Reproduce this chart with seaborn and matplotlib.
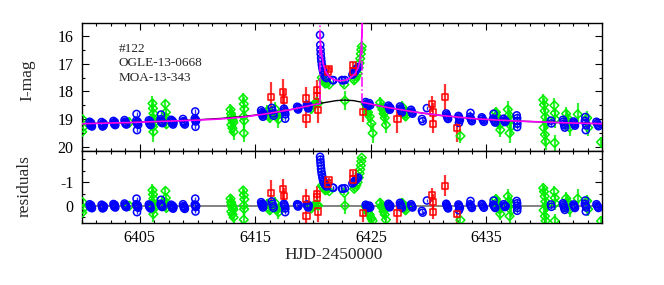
import seaborn as sns
import matplotlib.pyplot as plt
from matplotlib.ticker import MultipleLocator, FixedLocator

sns.set_theme(style="ticks")
plt.rcParams['font.family'] = ['Liberation Serif', 'DejaVu Serif']
plt.rcParams['axes.unicode_minus'] = False

event_labels = ["#122", "OGLE-13-0668", "MOA-13-343"]
xtick_vals = [6405, 6415, 6425, 6435]

# single lens model (black)
pspl_t = [6400, 6402, 6404, 6406, 6408, 6410, 6412, 6414, 6416, 6418,
          6419, 6420, 6421, 6422, 6422.7, 6423.5, 6424.5, 6425.5, 6426.5, 6427.5,
          6428.5, 6429.5, 6431, 6432.5, 6434, 6436, 6438, 6440, 6442, 6445]
pspl_mag = [19.16, 19.14, 19.12, 19.09, 19.06, 19.02, 18.97, 18.90, 18.80, 18.66,
            18.57, 18.48, 18.40, 18.33, 18.31, 18.33, 18.41, 18.50, 18.58, 18.65,
            18.72, 18.78, 18.86, 18.92, 18.98, 19.03, 19.07, 19.10, 19.13, 19.16]

# binary lens model (magenta): before, between and after the caustic crossings
bin_pre_t = [6400, 6402, 6404, 6406, 6408, 6410, 6412, 6414, 6416, 6418, 6419, 6420, 6420.57]
bin_pre_mag = [19.16, 19.14, 19.12, 19.09, 19.06, 19.03, 18.99, 18.92, 18.80, 18.66, 18.57, 18.48, 18.44]
bin_in_t = [6420.60, 6420.65, 6420.75, 6420.90, 6421.10, 6421.40, 6421.80, 6422.30,
            6422.80, 6423.20, 6423.60, 6423.90, 6424.05, 6424.15, 6424.22, 6424.26]
bin_in_mag = [15.95, 16.30, 16.70, 17.05, 17.30, 17.48, 17.58, 17.62,
              17.60, 17.52, 17.38, 17.15, 16.90, 16.50, 16.00, 15.40]
bin_post_t = [6424.26, 6424.5, 6425.5, 6426.5, 6427.5, 6428.5, 6429.5, 6431, 6432.5,
              6434, 6436, 6438, 6440, 6442, 6445]
bin_post_mag = [18.40, 18.41, 18.50, 18.58, 18.65, 18.72, 18.78, 18.86, 18.92,
                18.98, 19.03, 19.07, 19.10, 19.13, 19.16]
caustic_t = [6420.57, 6424.26]
caustic_low = [18.44, 18.40]

# blue data set
blue_t = [
    6400.66, 6400.70, 6400.74, 6400.78, 6400.82, 6400.86,
    6401.70, 6401.74, 6401.78, 6401.82, 6401.86, 6401.90,
    6402.72, 6402.76, 6402.80, 6402.84, 6402.88,
    6403.68, 6403.72, 6403.76, 6403.80, 6403.84,
    6404.72, 6404.70, 6404.74, 6404.78, 6404.82, 6404.86, 6404.76,
    6405.78, 6405.82, 6405.86, 6405.90, 6405.94,
    6406.84, 6406.80, 6406.84, 6406.88, 6406.92, 6406.96,
    6407.72, 6407.76, 6407.80, 6407.84, 6407.88, 6407.92,
    6408.74, 6408.78, 6408.82, 6408.86, 6408.90,
    6409.80, 6409.76, 6409.80, 6409.84, 6409.88, 6409.82,
    6415.50, 6415.54, 6415.58, 6415.62, 6415.66, 6415.70,
    6416.42, 6416.48, 6416.54, 6416.58,
    6417.48, 6417.52, 6417.56, 6417.60, 6417.58,
    6418.62, 6418.66, 6418.70, 6418.74,
    6419.46, 6419.50, 6419.54, 6419.58, 6419.62,
    6420.60, 6420.62, 6420.64, 6420.66, 6420.69, 6420.72, 6420.76, 6420.80, 6420.85, 6420.90, 6420.96, 6421.05, 6421.15,
    6421.70, 6421.75, 6422.50, 6422.55, 6422.75,
    6423.40, 6423.50, 6423.60, 6423.70, 6423.80, 6423.90,
    6424.55, 6424.62, 6424.70, 6424.78, 6424.86, 6424.94,
    6426.52, 6426.56, 6426.60, 6426.64, 6426.68,
    6427.52, 6427.56, 6427.60, 6427.64, 6427.68,
    6428.48, 6428.52, 6428.56, 6428.60,
    6429.42, 6429.48, 6429.85,
    6431.52, 6431.56, 6431.60, 6431.64, 6431.68,
    6432.58, 6432.62, 6432.66, 6432.70, 6432.62,
    6433.62, 6433.58, 6433.64, 6433.70, 6433.74,
    6434.60, 6434.66, 6434.72, 6434.78,
    6435.62, 6435.58, 6435.64, 6435.70, 6435.76,
    6436.48, 6436.54, 6436.60, 6436.66,
    6437.62, 6437.66, 6437.64, 6437.68, 6437.66,
    6440.58, 6440.62,
    6441.62, 6441.66, 6441.70, 6441.74, 6441.78,
    6442.54, 6442.58, 6442.62, 6442.66,
    6443.56, 6443.52, 6443.58, 6443.64, 6443.60,
    6444.52, 6444.58, 6444.64, 6444.70,
]
blue_mag = [
    19.09, 19.17, 19.23, 19.13, 19.20, 19.26,
    19.10, 19.20, 19.26, 19.14, 19.23, 19.17,
    19.06, 19.13, 19.18, 19.10, 19.21,
    19.03, 19.09, 19.16, 19.12, 19.19,
    18.81, 19.05, 19.11, 19.16, 19.09, 19.20, 19.39,
    19.04, 19.12, 19.17, 19.08, 19.21,
    18.83, 19.00, 19.06, 19.12, 19.08, 19.14,
    19.02, 19.09, 19.15, 19.06, 19.19, 19.12,
    18.99, 19.07, 19.15, 19.10, 19.19,
    18.72, 18.97, 19.02, 19.08, 19.04, 19.27,
    18.68, 18.75, 18.81, 18.86, 18.91, 18.78,
    18.59, 18.69, 18.79, 18.87,
    18.62, 18.68, 18.74, 18.82, 18.98,
    18.55, 18.61, 18.65, 18.58,
    18.48, 18.53, 18.58, 18.61, 18.51,
    15.97, 16.33, 16.50, 16.65, 16.80, 16.92, 17.05, 17.15, 17.25, 17.33, 17.40, 17.47, 17.52,
    17.59, 17.60, 17.59, 17.60, 17.59,
    17.40, 17.35, 17.30, 17.24, 17.18, 17.12,
    18.38, 18.44, 18.48, 18.52, 18.42, 18.50,
    18.51, 18.57, 18.62, 18.66, 18.59,
    18.54, 18.61, 18.66, 18.71, 18.76,
    18.66, 18.72, 18.76, 18.80,
    18.99, 19.07, 18.60,
    18.79, 18.85, 18.90, 18.95, 18.99,
    18.88, 18.93, 18.98, 19.03, 19.13,
    18.77, 18.91, 18.97, 19.02, 19.07,
    18.93, 18.98, 19.04, 19.09,
    18.80, 18.97, 19.02, 19.07, 19.12,
    18.98, 19.04, 19.10, 19.06,
    18.86, 18.96, 19.06, 19.16, 19.28,
    19.05, 19.15,
    19.02, 19.09, 19.16, 19.22, 19.30,
    19.08, 19.13, 19.18, 19.23,
    18.92, 19.06, 19.14, 19.22, 19.39,
    19.09, 19.15, 19.20, 19.25,
]
blue_res = [
    -0.06, 0.02, 0.08, -0.02, 0.05, 0.11,
    -0.04, 0.06, 0.12, 0.00, 0.09, 0.03,
    -0.07, 0.00, 0.05, -0.03, 0.08,
    -0.09, -0.03, 0.04, 0.00, 0.07,
    -0.30, -0.06, 0.00, 0.05, -0.02, 0.09, 0.28,
    -0.05, 0.03, 0.08, -0.01, 0.12,
    -0.25, -0.08, -0.02, 0.04, 0.00, 0.06,
    -0.04, 0.03, 0.09, 0.00, 0.13, 0.06,
    -0.06, 0.02, 0.10, 0.05, 0.14,
    -0.30, -0.05, 0.00, 0.06, 0.02, 0.25,
    -0.15, -0.08, -0.02, 0.03, 0.08, -0.05,
    -0.18, -0.08, 0.02, 0.10,
    -0.08, -0.02, 0.04, 0.12, 0.28,
    -0.06, 0.00, 0.04, -0.03,
    -0.05, 0.00, 0.05, 0.08, -0.02,
    -2.09, -1.97, -1.85, -1.72, -1.58, -1.45, -1.33, -1.22, -1.10, -1.02, -0.95, -0.88, -0.82,
    -0.77, -0.76, -0.73, -0.72, -0.74,
    -0.95, -1.00, -1.05, -1.10, -1.15, -1.20,
    -0.04, 0.02, 0.06, 0.10, 0.00, 0.08,
    -0.08, -0.02, 0.03, 0.07, 0.00,
    -0.12, -0.05, 0.00, 0.05, 0.10,
    -0.06, 0.00, 0.04, 0.08,
    0.22, 0.30, -0.22,
    -0.08, -0.02, 0.03, 0.08, 0.12,
    -0.05, 0.00, 0.05, 0.10, 0.20,
    -0.20, -0.06, 0.00, 0.05, 0.10,
    -0.07, -0.02, 0.04, 0.09,
    -0.22, -0.05, 0.00, 0.05, 0.10,
    -0.06, 0.00, 0.06, 0.02,
    -0.20, -0.10, 0.00, 0.10, 0.22,
    -0.05, 0.05,
    -0.10, -0.03, 0.04, 0.10, 0.18,
    -0.05, 0.00, 0.05, 0.10,
    -0.22, -0.08, 0.00, 0.08, 0.25,
    -0.06, 0.00, 0.05, 0.10,
]
blue_err = 0.08

# green data set
green_t = [
    6400.02, 6400.05, 6400.08,
    6404.10,
    6406.10, 6406.14, 6406.18, 6406.12, 6406.16, 6406.20, 6406.14, 6406.18,
    6407.22, 6407.26, 6407.24, 6407.28, 6407.30,
    6412.85, 6412.90, 6412.95, 6413.00, 6413.05, 6413.10, 6412.92, 6413.02, 6413.12,
    6413.95, 6414.00, 6414.05, 6413.98, 6414.03, 6414.00,
    6416.05, 6416.15, 6416.25, 6416.70, 6416.85, 6417.00, 6417.10,
    6419.70, 6419.85, 6420.00, 6420.15, 6420.30, 6420.45,
    6420.75, 6420.85, 6420.95, 6421.05, 6421.20, 6421.40,
    6422.70, 6422.75,
    6423.55, 6423.65, 6423.75, 6423.85,
    6423.95, 6424.02, 6424.08, 6424.13, 6424.17, 6424.21,
    6424.55, 6424.65, 6424.75, 6424.90, 6425.05, 6425.15, 6424.80,
    6425.80, 6425.90, 6426.00, 6426.10, 6426.20, 6426.30,
    6427.70, 6427.80, 6427.90, 6428.00, 6428.10,
    6432.75,
    6435.82, 6435.90, 6435.98, 6436.06, 6436.14, 6436.20,
    6436.85, 6436.95, 6437.05, 6437.15, 6437.00,
    6439.92, 6439.98, 6440.04, 6440.10, 6440.16, 6439.95, 6440.06, 6440.12,
    6440.88, 6440.92, 6440.96, 6440.90,
    6441.90, 6442.00, 6442.10, 6442.20,
    6442.90,
    6443.72, 6443.80,
    6444.92,
]
green_mag = [
    19.45, 19.00, 19.30,
    19.12,
    18.43, 18.61, 18.79, 18.95, 19.05, 19.15, 19.27, 19.45,
    18.45, 18.75, 18.92, 19.05, 19.18,
    18.65, 18.80, 18.90, 19.00, 19.05, 19.12, 19.20, 19.32, 19.45,
    18.25, 18.45, 18.63, 18.90, 19.05, 19.50,
    18.70, 18.85, 18.95, 18.62, 18.90, 19.00, 18.80,
    18.55, 18.62, 18.50, 18.45, 18.38, 18.42,
    17.50, 17.58, 17.65, 17.72, 17.70, 17.75,
    17.75, 18.33,
    17.60, 17.55, 17.45, 17.35,
    17.15, 16.98, 16.82, 16.65, 16.50, 16.38,
    18.45, 18.60, 18.75, 18.90, 19.15, 19.50, 18.50,
    18.40, 18.55, 18.65, 18.80, 18.95, 19.20,
    18.55, 18.70, 18.80, 18.90, 18.75,
    19.60,
    18.75, 18.88, 18.98, 19.08, 19.20, 19.38,
    18.65, 18.85, 19.00, 19.25, 19.50,
    18.30, 18.48, 18.70, 18.92, 19.10, 19.30, 19.55, 19.80,
    18.50, 18.78, 19.00, 19.85,
    18.80, 18.95, 19.10, 19.30,
    18.82,
    18.95, 19.30,
    19.82,
]
green_res = [
    0.30, -0.15, 0.14,
    0.01,
    -0.66, -0.48, -0.30, -0.14, -0.04, 0.06, 0.18, 0.36,
    -0.63, -0.33, -0.16, -0.03, 0.10,
    -0.30, -0.15, -0.05, 0.05, 0.10, 0.17, 0.25, 0.37, 0.50,
    -0.65, -0.45, -0.27, 0.00, 0.15, 0.60,
    -0.08, 0.08, 0.20, -0.12, 0.17, 0.28, 0.08,
    0.02, 0.12, 0.02, 0.00, -0.05, 0.00,
    -0.85, -0.80, -0.72, -0.66, -0.68, -0.62,
    -0.55, 0.00,
    -0.72, -0.78, -0.88, -1.00,
    -1.20, -1.38, -1.55, -1.72, -1.90, -2.05,
    0.03, 0.15, 0.28, 0.40, 0.55, 0.65, 0.06,
    -0.12, 0.03, 0.10, 0.25, 0.38, 0.60,
    -0.12, 0.03, 0.10, 0.20, 0.05,
    0.62,
    -0.28, -0.15, -0.05, 0.05, 0.17, 0.35,
    -0.40, -0.20, -0.05, 0.20, 0.45,
    -0.75, -0.60, -0.40, -0.18, 0.00, 0.20, 0.45, 0.65,
    -0.60, -0.33, -0.10, 0.65,
    -0.32, -0.18, -0.03, 0.17,
    -0.30,
    -0.20, 0.15,
    0.66,
]
green_err = [
    0.20, 0.12, 0.15,
    0.20,
    0.25, 0.30, 0.20, 0.25, 0.30, 0.20, 0.30, 0.35,
    0.15, 0.20, 0.15, 0.20, 0.15,
    0.20, 0.25, 0.30, 0.25, 0.30, 0.20, 0.30, 0.25, 0.30,
    0.20, 0.25, 0.20, 0.30, 0.25, 0.30,
    0.20, 0.15, 0.20, 0.25, 0.20, 0.30, 0.15,
    0.15, 0.20, 0.15, 0.10, 0.15, 0.10,
    0.08, 0.08, 0.08, 0.08, 0.08, 0.08,
    0.10, 0.35,
    0.08, 0.08, 0.08, 0.08,
    0.08, 0.08, 0.08, 0.08, 0.08, 0.08,
    0.20, 0.25, 0.30, 0.25, 0.30, 0.35, 0.20,
    0.20, 0.25, 0.20, 0.30, 0.25, 0.30,
    0.20, 0.15, 0.20, 0.15, 0.20,
    0.25,
    0.20, 0.25, 0.30, 0.25, 0.20, 0.25,
    0.30, 0.25, 0.30, 0.30, 0.35,
    0.20, 0.25, 0.30, 0.30, 0.25, 0.30, 0.35, 0.30,
    0.25, 0.20, 0.30, 0.30,
    0.25, 0.30, 0.25, 0.30,
    0.40,
    0.25, 0.30,
    0.20,
]

# red data set
red_t = [6416.38, 6417.40, 6417.45, 6419.38, 6419.42, 6420.32, 6420.36, 6420.40, 6421.28, 6421.34,
         6423.42, 6423.48, 6424.35, 6427.30, 6430.32, 6430.36, 6430.40, 6431.40, 6432.45]
red_mag = [18.20, 18.01, 18.31, 18.25, 18.97, 17.95, 18.15, 18.68, 17.28, 17.18,
           17.05, 17.28, 18.75, 19.00, 18.45, 18.76, 19.18, 18.20, 19.32]
red_res = [-0.55, -0.70, -0.40, -0.30, 0.45, -0.50, -0.35, 0.25, -0.95, -1.08,
           -1.38, -1.12, 0.33, 0.33, -0.45, -0.15, 0.28, -0.85, 0.35]
red_err = [0.55, 0.45, 0.35, 0.40, 0.35, 0.35, 0.30, 0.45, 0.10, 0.10,
           0.10, 0.10, 0.35, 0.50, 0.30, 0.35, 0.30, 0.45, 0.50]

# (t, mag, residual, error, colour, marker, marker area, bar width)
datasets = [
    (green_t, green_mag, green_res, green_err, '#00ee00', 'D', 20, 1.6),
    (blue_t, blue_mag, blue_res, blue_err, '#0000ff', 'o', 26, 1.0),
    (red_t, red_mag, red_res, red_err, '#ff0000', 's', 20, 1.6),
]

fig = plt.figure(figsize=(6.64, 2.85), dpi=100)
ax1 = fig.add_axes([0.1235, 0.4712, 0.7831, 0.4491])
ax2 = fig.add_axes([0.1235, 0.2186, 0.7831, 0.2526], sharex=ax1)

for t, m, r, e, c, mk, s, bw in datasets:
    for ax, y in ((ax1, m), (ax2, r)):
        ax.errorbar(t, y, yerr=e, fmt='none', ecolor=c, elinewidth=bw, capsize=0, alpha=0.8, zorder=2)
        sns.scatterplot(x=t, y=y, ax=ax, marker=mk, s=s, color=c, facecolors='none',
                        edgecolor=c, linewidth=1.1, zorder=3)

# model curves
sns.lineplot(x=pspl_t, y=pspl_mag, ax=ax1, color='black', linewidth=1.0, sort=False, estimator=None, zorder=4)
for bt, bm in [(bin_pre_t, bin_pre_mag), (bin_in_t, bin_in_mag), (bin_post_t, bin_post_mag)]:
    sns.lineplot(x=bt, y=bm, ax=ax1, color='#ff00ff', linewidth=1.2, sort=False, estimator=None, zorder=5)
ax1.vlines(caustic_t, caustic_low, 15.3, colors='#ff00ff', linestyles='-.', linewidth=1.1, zorder=5)

ax2.axhline(0, color='#777777', linewidth=1.3, zorder=1)

ax1.set_xlim(6400, 6445)
ax1.set_ylim(20.13, 15.53)
ax2.set_ylim(0.73, -2.35)

for ax in (ax1, ax2):
    ax.xaxis.set_major_locator(FixedLocator(xtick_vals))
    ax.xaxis.set_minor_locator(MultipleLocator(1.25))
    ax.yaxis.set_minor_locator(MultipleLocator(0.5))
    ax.tick_params(which='both', direction='in', top=True, right=True, colors='black',
                   labelsize=11.5, width=0.8)
    ax.tick_params(which='major', length=5)
    ax.tick_params(which='minor', length=2.5)
    for sp in ax.spines.values():
        sp.set_color('black')
        sp.set_linewidth(1.0)
    ax.set_xlabel('')
    ax.set_ylabel('')

ax1.yaxis.set_major_locator(FixedLocator([16, 17, 18, 19, 20]))
ax2.yaxis.set_major_locator(FixedLocator([-1, 0]))
ax1.tick_params(axis='x', labelbottom=False)
ax1.tick_params(axis='y', pad=6)
ax2.tick_params(axis='y', pad=6)
ax2.tick_params(axis='x', pad=5)

ax1.set_ylabel('I-mag', fontsize=12.5)
ax1.yaxis.set_label_coords(-0.090, 0.552)
ax2.set_ylabel('residuals', fontsize=12.5)
ax2.yaxis.set_label_coords(-0.094, 0.512)
ax2.set_xlabel('HJD-2450000', fontsize=12.5)
ax2.xaxis.set_label_coords(0.483, -0.34)

for txt, yb in zip(event_labels, [0.775, 0.663, 0.541]):
    ax1.text(0.0698, yb, txt, transform=ax1.transAxes, fontsize=9.5, va='baseline', ha='left')

fig.savefig('out.png', dpi=100)
